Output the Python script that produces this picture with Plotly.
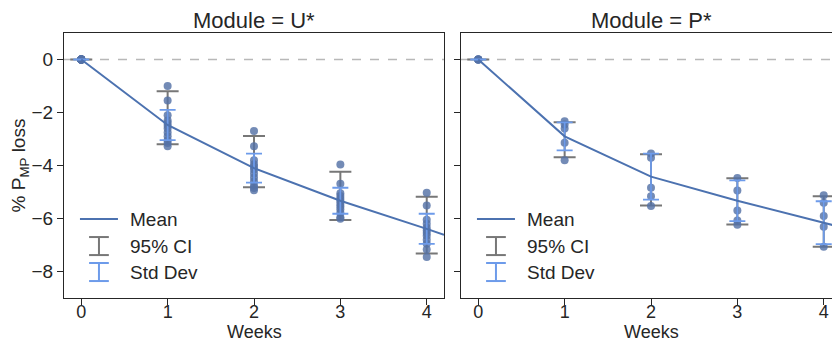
import plotly.graph_objects as go

# ---------------- data ----------------
weeks = [0, 1, 2, 3, 4]
tick_vals_y = [-8, -6, -4, -2, 0]

# Module U* individual measurements (% PMP loss)
pts_U = {
    0: [0.0] * 12,
    1: [-1.0, -1.55, -2.1, -2.3, -2.4, -2.5, -2.6, -2.75, -2.9, -3.05, -3.15, -3.27],
    2: [-2.70, -3.27, -3.8, -3.95, -4.05, -4.15, -4.3, -4.45, -4.6, -4.75, -4.85, -4.93],
    3: [-3.96, -4.69, -5.05, -5.15, -5.25, -5.35, -5.45, -5.55, -5.65, -5.78, -5.95, -6.01],
    4: [-5.03, -5.51, -6.05, -6.2, -6.35, -6.45, -6.55, -6.65, -6.8, -6.95, -7.17, -7.45],
}
mean_U = [0.0, -2.47, -4.10, -5.33, -6.39]
std_U = [0.0, 0.57, 0.55, 0.49, 0.57]
ci_hi_U = [0.0, -1.20, -2.89, -4.24, -5.18]
ci_lo_U = [0.0, -3.20, -4.82, -6.06, -7.32]

# Module P* individual measurements
pts_P = {
    0: [0.0] * 5,
    1: [-2.33, -2.45, -2.6, -3.14, -3.8],
    2: [-3.55, -3.71, -4.84, -5.16, -5.53],
    3: [-4.47, -4.94, -5.70, -6.08, -6.24],
    4: [-5.12, -5.41, -5.91, -6.31, -7.07],
}
mean_P = [0.0, -2.90, -4.42, -5.33, -6.16]
std_P = [0.0, 0.53, 0.87, 0.77, 0.81]
ci_hi_P = [0.0, -2.37, -3.58, -4.48, -5.16]
ci_lo_P = [0.0, -3.69, -5.51, -6.23, -7.07]

# mean trend line (extends to plot edge)
line_weeks = [0, 1, 2, 3, 4, 4.2]
line_U = mean_U + [-6.62]
line_P = mean_P + [-6.33]

titles = ["Module = U*", "Module = P*"]
legend_labels = ["Mean", "95% CI", "Std Dev"]
x_title = "Weeks"
y_title = "% P<sub>MP</sub> loss"

# ---------------- style ----------------
FONT = "Liberation Sans, Arial, sans-serif"
C_MEAN = "#4C72B0"
C_DOT = "rgba(84,114,166,0.82)"
C_CI = "#777777"
C_STD = "#6D9BEA"
AX = "#262626"
FS = 19

fig = go.Figure()

panels = [
    ("x", "y", pts_U, mean_U, std_U, ci_hi_U, ci_lo_U, line_U),
    ("x2", "y2", pts_P, mean_P, std_P, ci_hi_P, ci_lo_P, line_P),
]

for xa, ya, pts, mean, std, cihi, cilo, line in panels:
    # 95% CI bars
    fig.add_trace(go.Scatter(
        x=weeks, y=mean, mode="markers", xaxis=xa, yaxis=ya,
        marker=dict(size=1, color="rgba(0,0,0,0)"),
        error_y=dict(type="data", symmetric=False,
                     array=[h - m for h, m in zip(cihi, mean)],
                     arrayminus=[m - l for m, l in zip(mean, cilo)],
                     color=C_CI, thickness=2, width=11),
        showlegend=False, hoverinfo="skip"))
    # individual points
    xs, ys = [], []
    for w in weeks:
        xs += [w] * len(pts[w])
        ys += pts[w]
    fig.add_trace(go.Scatter(
        x=xs, y=ys, mode="markers", xaxis=xa, yaxis=ya,
        marker=dict(size=8, color=C_DOT, line=dict(width=0)),
        showlegend=False))
    # std dev bars
    fig.add_trace(go.Scatter(
        x=weeks, y=mean, mode="markers", xaxis=xa, yaxis=ya,
        marker=dict(size=1, color="rgba(0,0,0,0)"),
        error_y=dict(type="data", array=std, color=C_STD, thickness=1.8, width=8),
        showlegend=False, hoverinfo="skip"))
    # mean line
    fig.add_trace(go.Scatter(
        x=line_weeks, y=line, mode="lines", xaxis=xa, yaxis=ya,
        line=dict(color=C_MEAN, width=2), showlegend=False))

PW = 777
dom1 = [0, 380 / PW]
dom2 = [397 / PW, 1]

axis_common = dict(showline=True, linecolor=AX, linewidth=1.2, mirror=True,
                   ticks="outside", ticklen=6, tickwidth=1.2, tickcolor=AX,
                   showgrid=False, zeroline=False,
                   tickfont=dict(family=FONT, size=FS, color=AX))

xtick_font = dict(family=FONT, size=18, color=AX)

fig.update_layout(
    width=840, height=343,
    margin=dict(l=56, r=7, t=25, b=53, autoexpand=False),
    paper_bgcolor="white", plot_bgcolor="white",
    showlegend=False,
    font=dict(family=FONT, color=AX),
    xaxis=dict(domain=dom1, range=[-0.2, 4.2], tickvals=weeks, anchor="y",
               ticklabelstandoff=-9, **axis_common),
    xaxis2=dict(domain=dom2, range=[-0.2, 4.2], tickvals=weeks, anchor="y2",
                ticklabelstandoff=-9, **axis_common),
    yaxis=dict(domain=[0, 1], range=[-9, 1], tickvals=tick_vals_y, anchor="x",
               title=dict(text=y_title, font=dict(family=FONT, size=FS, color=AX), standoff=6),
               **axis_common),
    yaxis2=dict(domain=[0, 1], range=[-9, 1], tickvals=tick_vals_y, matches="y",
                anchor="x2", showticklabels=False, **axis_common),
)
fig.update_xaxes(tickfont=xtick_font)

shapes = []
annotations = []
for i, (xa, ya) in enumerate([("x", "y"), ("x2", "y2")]):
    xd, yd = xa + " domain", ya + " domain"
    # zero reference line
    shapes.append(dict(type="line", xref=xd, yref=ya, x0=0, x1=1, y0=0, y1=0,
                       line=dict(color="#b8b8b8", width=1.3, dash="dash"), layer="below"))
    # title
    annotations.append(dict(text=titles[i], xref=xd, yref="paper", x=0.5, y=1.0,
                            yshift=-2, xanchor="center", yanchor="bottom", showarrow=False,
                            font=dict(family=FONT, size=22, color=AX)))
    # x axis title
    annotations.append(dict(text=x_title, xref=xd, yref="paper", x=0.5, y=0,
                            yshift=-34, xanchor="center", yanchor="middle", showarrow=False,
                            font=dict(family=FONT, size=18, color=AX)))
    # legend
    ly = [0.298, 0.196, 0.098]
    shapes.append(dict(type="line", xref=xd, yref=yd, x0=0.042, x1=0.142, y0=ly[0], y1=ly[0],
                       line=dict(color=C_MEAN, width=2)))
    for k, col in [(1, C_CI), (2, C_STD)]:
        cx = 0.092
        h = 0.034
        cw = 0.026
        shapes.append(dict(type="line", xref=xd, yref=yd, x0=cx, x1=cx, y0=ly[k] - h, y1=ly[k] + h,
                           line=dict(color=col, width=2)))
        shapes.append(dict(type="line", xref=xd, yref=yd, x0=cx - cw, x1=cx + cw, y0=ly[k] - h, y1=ly[k] - h,
                           line=dict(color=col, width=2)))
        shapes.append(dict(type="line", xref=xd, yref=yd, x0=cx - cw, x1=cx + cw, y0=ly[k] + h, y1=ly[k] + h,
                           line=dict(color=col, width=2)))
    for k in range(3):
        annotations.append(dict(text=legend_labels[k], xref=xd, yref=yd, x=0.168, y=ly[k],
                                xanchor="left", yanchor="middle", showarrow=False,
                                font=dict(family=FONT, size=FS, color=AX)))

fig.update_layout(shapes=shapes, annotations=annotations)
fig.write_html("out.html")
